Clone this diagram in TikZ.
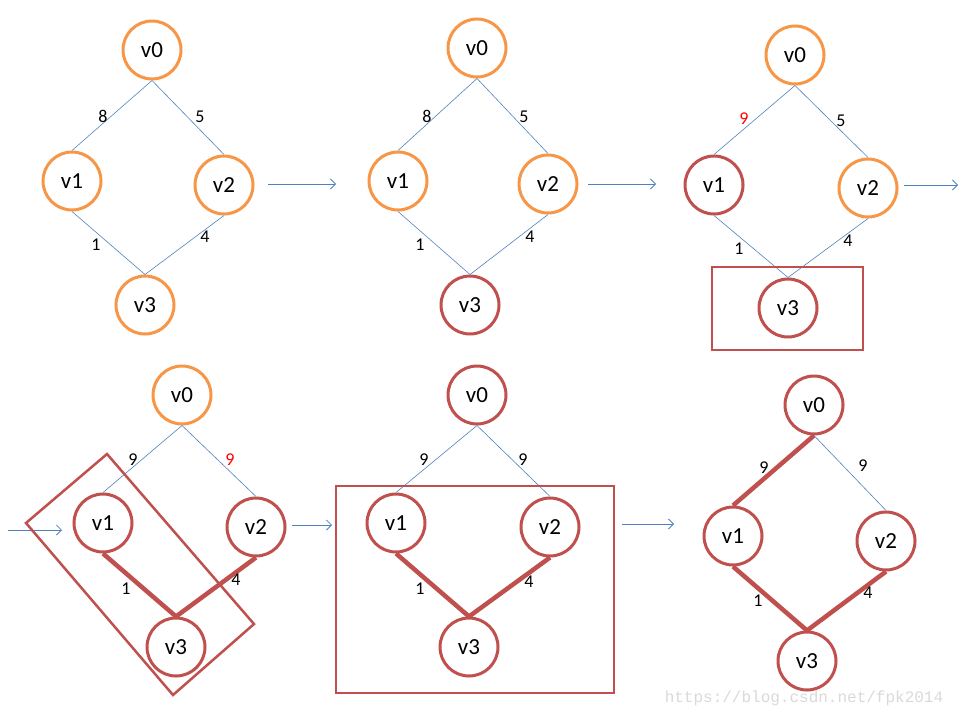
\documentclass[tikz,border=0pt]{standalone}
\usepackage{fontspec}
\setmainfont{Carlito}
\newfontfamily\wmfont{Liberation Mono}
\usetikzlibrary{arrows.meta}
\definecolor{vorange}{HTML}{F79646}
\definecolor{vred}{HTML}{C0504D}
\definecolor{vblue}{HTML}{4F81BD}
\begin{document}
\begin{tikzpicture}[x=1pt,y=-1pt,
  vtx/.style={circle,draw,line width=3pt,minimum size=58pt,inner sep=0pt,font=\fontsize{23}{23}\selectfont},
  ov/.style={vtx,draw=vorange},
  rv/.style={vtx,draw=vred},
  thin edge/.style={draw=vblue,line width=0.6pt},
  thick edge/.style={draw=vred,line width=4.5pt},
  wlab/.style={font=\fontsize{18}{18}\selectfont,inner sep=0pt},
  rlab/.style={wlab,text=red},
  box/.style={draw=vred,line width=2.5pt},
  step arrow/.style={draw=vblue,line width=0.8pt,-{Straight Barb[length=5pt,width=10pt]}}]
\useasboundingbox (0,0) rectangle (960,720);
% ---------- graph 1 ----------
\node[ov] (a0) at (152,50) {v0};
\node[ov] (a1) at (72,181) {v1};
\node[ov] (a2) at (224,185) {v2};
\node[ov] (a3) at (145,305) {v3};
\draw[thin edge] (a0.south) -- (a1.north);
\draw[thin edge] (a0.south) -- (a2.north);
\draw[thin edge] (a1.south) -- (a3.north);
\draw[thin edge] (a2.south) -- (a3.north);
\node[wlab] (la01) at (103,116) {8};
\node[wlab] (la02) at (200,117) {5};
\node[wlab] (la13) at (96,245) {1};
\node[wlab] (la23) at (205,237) {4};
\coordinate (p1s) at (268,184);
\coordinate (p1e) at (336,184);
\draw[step arrow] (p1s) -- (p1e);
% ---------- graph 2 ----------
\node[ov] (b0) at (477,48) {v0};
\node[ov] (b1) at (398,181) {v1};
\node[ov] (b2) at (548,184) {v2};
\node[rv] (b3) at (470,305) {v3};
\draw[thin edge] (b0.south) -- (b1.north);
\draw[thin edge] (b0.south) -- (b2.north);
\draw[thin edge] (b1.south) -- (b3.north);
\draw[thin edge] (b2.south) -- (b3.north);
\node[wlab] (lb01) at (427,116) {8};
\node[wlab] (lb02) at (524,117) {5};
\node[wlab] (lb13) at (420,245) {1};
\node[wlab] (lb23) at (530,237) {4};
\coordinate (p2s) at (588,184);
\coordinate (p2e) at (656,184);
\draw[step arrow] (p2s) -- (p2e);
% ---------- graph 3 ----------
\node[ov] (c0) at (795,55) {v0};
\node[rv] (c1) at (714,185) {v1};
\node[ov] (c2) at (868,188) {v2};
\node[rv] (c3) at (788,308) {v3};
\draw[thin edge] (c0.south) -- (c1.north);
\draw[thin edge] (c0.south) -- (c2.north);
\draw[thin edge] (c1.south) -- (c3.north);
\draw[thin edge] (c2.south) -- (c3.north);
\node[rlab] (lc01) at (744,119) {9};
\node[wlab] (lc02) at (841,121) {5};
\node[wlab] (lc13) at (739,249) {1};
\node[wlab] (lc23) at (848,241) {4};
\draw[box] (712,267) rectangle (863,350);
\coordinate (p3s) at (904,185);
\coordinate (p3e) at (958,185);
\draw[step arrow] (p3s) -- (p3e);
% ---------- graph 4 ----------
\coordinate (p4s) at (8,530);
\coordinate (p4e) at (62,530);
\draw[step arrow] (p4s) -- (p4e);
\node[ov] (d0) at (182,395) {v0};
\node[rv] (d1) at (103,523) {v1};
\node[rv] (d2) at (256,527) {v2};
\node[rv] (d3) at (176,647) {v3};
\draw[thin edge] (d0.south) -- (d1.north);
\draw[thin edge] (d0.south) -- (d2.north);
\draw[thick edge] (d1.south) -- (d3.north);
\draw[thick edge] (d2.south) -- (d3.north);
\node[wlab] (ld01) at (133,460) {9};
\node[rlab] (ld02) at (230,460) {9};
\node[wlab] (ld13) at (126,589) {1};
\node[wlab] (ld23) at (236,580) {4};
\draw[box] (26,523) -- (107,454) -- (254,624) -- (173,695) -- cycle;
\coordinate (p5s) at (292,525);
\coordinate (p5e) at (332,525);
\draw[step arrow] (p5s) -- (p5e);
% ---------- graph 5 ----------
\node[rv] (e0) at (477,395) {v0};
\node[rv] (e1) at (396,523) {v1};
\node[rv] (e2) at (550,527) {v2};
\node[rv] (e3) at (469,647) {v3};
\draw[thin edge] (e0.south) -- (e1.north);
\draw[thin edge] (e0.south) -- (e2.north);
\draw[thick edge] (e1.south) -- (e3.north);
\draw[thick edge] (e2.south) -- (e3.north);
\node[wlab] (le01) at (424,460) {9};
\node[wlab] (le02) at (523,460) {9};
\node[wlab] (le13) at (420,589) {1};
\node[wlab] (le23) at (529,582) {4};
\draw[box] (336,486) rectangle (614,693);
\coordinate (p6s) at (622,524);
\coordinate (p6e) at (674,524);
\draw[step arrow] (p6s) -- (p6e);
% ---------- graph 6 ----------
\node[rv] (f0) at (814,405) {v0};
\node[rv] (f1) at (733,536) {v1};
\node[rv] (f2) at (886,541) {v2};
\node[rv] (f3) at (807,661) {v3};
\draw[thick edge] (f0.south) -- (f1.north);
\draw[thin edge] (f0.south) -- (f2.north);
\draw[thick edge] (f1.south) -- (f3.north);
\draw[thick edge] (f2.south) -- (f3.north);
\node[wlab] (lf01) at (764,468) {9};
\node[wlab] (lf02) at (863,466) {9};
\node[wlab] (lf13) at (758,601) {1};
\node[wlab] (lf23) at (868,593) {4};
% ---------- watermark ----------
\node[font=\wmfont\fontsize{16}{16}\selectfont,text=black!15,inner sep=0pt] (wm) at (804,698) {https://blog.csdn.net/fpk2014};
\end{tikzpicture}
\end{document}
